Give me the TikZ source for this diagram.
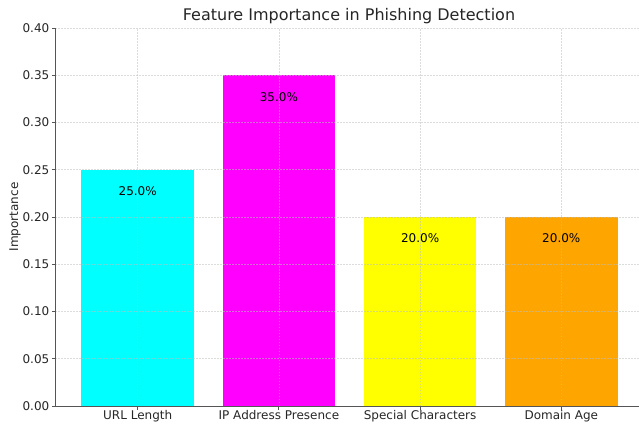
\documentclass[tikz,border=0pt]{standalone}
\usepackage{fontspec}
\setmainfont{DejaVu Sans}
\definecolor{axisgray}{HTML}{555555}
\definecolor{textgray}{HTML}{262626}
\definecolor{barcyan}{HTML}{00FFFF}
\definecolor{barmagenta}{HTML}{FF00FF}
\definecolor{baryellow}{HTML}{FFFF00}
\definecolor{barorange}{HTML}{FFA500}
\begin{document}
\begin{tikzpicture}[x=1pt,y=1pt,
  spine/.style={draw=axisgray, line width=0.9pt},
  grille/.style={draw=gray!50, line width=0.5pt, dash pattern=on 1.5pt off 1.5pt, opacity=0.55},
  ticklabel/.style={text=textgray, inner sep=0pt, font=\fontsize{12}{14}\selectfont},
  barlabel/.style={text=black, inner sep=0pt, font=\fontsize{12}{14}\selectfont}]

%%%%%%%%%%%%%%%%%%%%%%
%%%	 Def géométrie  %%%
%%%%%%%%%%%%%%%%%%%%%%

\def \xorig{55}
\def \yorig{17}
\def \xfin{639}
\def \echelle{945}
\def \premier{137.7}
\def \pas{141.2}
\def \largeur{112.6}
\def \ticklen{3.5}

\useasboundingbox (0,0) rectangle (639,423);

%%%%%%%%%%%%%%%%%%%%%%
%%%	    Barres      %%%
%%%%%%%%%%%%%%%%%%%%%%

\fill[barcyan] (\premier-0.5*\largeur,\yorig) rectangle (\premier+0.5*\largeur,\yorig+0.25*\echelle);
\fill[barmagenta] (\premier+\pas-0.5*\largeur,\yorig) rectangle (\premier+\pas+0.5*\largeur,\yorig+0.35*\echelle);
\fill[baryellow] (\premier+2*\pas-0.5*\largeur,\yorig) rectangle (\premier+2*\pas+0.5*\largeur,\yorig+0.20*\echelle);
\fill[barorange] (\premier+3*\pas-0.5*\largeur,\yorig) rectangle (\premier+3*\pas+0.5*\largeur,\yorig+0.20*\echelle);

%%%%%%%%%%%%%%%%%%%%%%
%%%	    Grille      %%%
%%%%%%%%%%%%%%%%%%%%%%

\foreach \v in {1,...,8}
  \draw[grille] (\xorig,\yorig+0.05*\v*\echelle) -- (\xfin,\yorig+0.05*\v*\echelle);
\foreach \i in {0,...,3}
  \draw[grille] (\premier+\i*\pas,\yorig) -- (\premier+\i*\pas,\yorig+0.40*\echelle);

%%%%%%%%%%%%%%%%%%%%%%
%%%	     Axes       %%%
%%%%%%%%%%%%%%%%%%%%%%

\draw[spine] (\xorig,\yorig+0.40*\echelle) -- (\xorig,\yorig) -- (\xfin,\yorig);

% graduations de l'axe vertical
\foreach \v/\txt in {0/0.00,1/0.05,2/0.10,3/0.15,4/0.20,5/0.25,6/0.30,7/0.35,8/0.40}{
  \draw[spine] (\xorig,\yorig+0.05*\v*\echelle) -- + (-\ticklen,0);
  \node[ticklabel, anchor=east] (y\v) at (\xorig-\ticklen-2,\yorig+0.05*\v*\echelle) {\txt};
}

% graduations de l'axe horizontal
\foreach \i in {0,...,3}
  \draw[spine] (\premier+\i*\pas,\yorig) -- + (0,-\ticklen);

\node[ticklabel, anchor=base] (X0) at (\premier,\yorig-13) {URL Length};
\node[ticklabel, anchor=base] (X1) at (\premier+\pas,\yorig-13) {IP Address Presence};
\node[ticklabel, anchor=base] (X2) at (\premier+2*\pas,\yorig-13) {Special Characters};
\node[ticklabel, anchor=base] (X3) at (\premier+3*\pas,\yorig-13) {Domain Age};

%%%%%%%%%%%%%%%%%%%%%%
%%%	   Etiquettes   %%%
%%%%%%%%%%%%%%%%%%%%%%

\node[barlabel] (A) at (\premier,\yorig+0.25*\echelle-21.5) {25.0\%};
\node[barlabel] (B) at (\premier+\pas,\yorig+0.35*\echelle-21.5) {35.0\%};
\node[barlabel] (C) at (\premier+2*\pas,\yorig+0.20*\echelle-21.5) {20.0\%};
\node[barlabel] (D) at (\premier+3*\pas,\yorig+0.20*\echelle-21.5) {20.0\%};

\node[ticklabel, rotate=90] (Ylab) at (15,206) {Importance};
\node[text=textgray, inner sep=0pt, font=\fontsize{16}{19}\selectfont] (Titre) at (349,407) {Feature Importance in Phishing Detection};

%%%%%%%%%%%%%%%%%%%%%%%%%%%%%%%%%%%%%%%%%

\end{tikzpicture}
\end{document}
